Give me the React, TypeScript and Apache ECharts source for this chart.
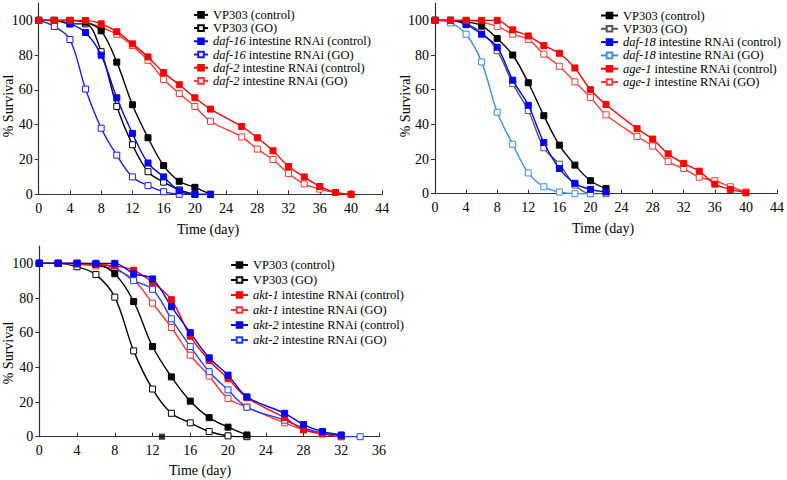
import React, { useEffect, useRef } from "react";
import * as echarts from "echarts";

// ---------- Panel A (top-left) ----------
const vp303CtrlA = [[0,100],[2,100],[4,100],[6,99],[8,94],[10,76],[12,51.5],[14,32.5],[16,16.5],[18,7.5],[20,4],[22,0]];
const vp303GoA = [[0,100],[2,100],[4,98],[6,98],[8,82],[10,50.5],[12,28.5],[14,13],[16,7],[18,2.5],[20,0]];
const daf16Ctrl = [[0,100],[2,100],[4,98],[6,93],[8,80],[10,55.5],[12,35],[14,18],[16,10],[18,2],[20,0],[22,0]];
const daf16Go = [[0,100],[2,96.5],[4,89],[6,60.5],[8,38],[10,22.5],[12,10],[14,5],[16,1.5],[18,0]];
const daf2Ctrl = [[0,100],[2,100],[4,100],[6,100],[8,98],[10,93.5],[12,86.5],[14,79],[16,70],[18,63],[20,55.5],[22,49],[26,39],[28,32.5],[30,25],[32,16],[34,10],[36,4.5],[38,1],[40,0]];
const daf2Go = [[0,100],[2,100],[4,100],[6,99],[8,96],[10,92],[12,85.5],[14,77],[16,66],[18,58],[20,50.5],[22,42],[26,33],[28,26],[30,20],[32,12],[34,6],[36,3],[38,1],[40,0]];

// ---------- Panel B (top-right) ----------
const vp303CtrlB = [[0,100],[2,100],[4,99],[6,97],[8,89.5],[10,80],[12,64],[14,45],[16,28],[18,16.5],[20,7.5],[22,3]];
const vp303GoB = [[0,100],[2,100],[4,98],[6,93],[8,82.5],[10,63.5],[12,48],[14,26.5],[16,17],[18,5],[20,0],[22,0]];
const daf18Ctrl = [[0,100],[2,100],[4,97.5],[6,92],[8,84.5],[10,65.5],[12,51],[14,29.5],[16,14.5],[18,6],[20,2.5],[22,1]];
const daf18Go = [[0,100],[2,98.5],[4,92],[6,76],[8,47],[10,28.5],[12,12],[14,4],[16,1],[18,0],[20,0]];
const age1Ctrl = [[0,100],[2,100],[4,100],[6,100],[8,100],[10,94.5],[12,91],[14,85.5],[16,81],[18,72.5],[20,60],[22,51.5],[26,37.5],[28,31.5],[30,23],[32,17.5],[34,13],[36,5.5],[38,2.5],[40,0.5]];
const age1Go = [[0,100],[2,100],[4,100],[6,99],[8,96.5],[10,92],[12,89],[14,80.5],[16,73.5],[18,64.5],[20,55.5],[22,45.5],[26,33],[28,27.5],[30,18.5],[32,14.5],[34,9.5],[36,7.5],[38,4],[40,1]];

// ---------- Panel C (bottom-left) ----------
const vp303CtrlC = [[0,100],[2,100],[4,100],[6,99.5],[8,94],[10,78],[12,52],[14,34.5],[16,20.5],[18,11],[20,5.5],[22,1]];
const vp303GoC = [[0,100],[2,100],[4,98],[6,93.5],[8,80.5],[10,49.5],[12,27.5],[14,13.5],[16,8],[18,3],[20,0.5],[22,0]];
const akt1Ctrl = [[0,100],[2,100],[4,100],[6,99.5],[8,98.5],[10,96],[12,89],[14,79],[16,58],[18,44],[20,33.5],[22,22.5],[26,11],[28,4],[30,2],[32,0.5]];
const akt1Go = [[0,100],[2,100],[4,99.5],[6,98.5],[8,96.5],[10,90.5],[12,77],[14,63],[16,47],[18,35],[20,22],[22,17],[26,8],[28,4],[30,1.5],[32,0]];
const akt2Ctrl = [[0,100],[2,100],[4,100],[6,100],[8,100],[10,94],[12,91],[14,75],[16,60],[18,45.5],[20,35.5],[22,23],[26,13.5],[28,7],[30,3],[32,1]];
const akt2Go = [[0,100],[2,100],[4,100],[6,99.5],[8,97.5],[10,90],[12,85],[14,68],[16,52],[18,37.5],[20,27],[22,17],[26,9.5],[28,5],[30,2],[32,0],[34,0]];
const strayC = [[13,0]];

const yTicks = [0, 20, 40, 60, 80, 100];
const xTicksTop = [0, 4, 8, 12, 16, 20, 24, 28, 32, 36, 40, 44];
const xTicksBottom = [0, 4, 8, 12, 16, 20, 24, 28, 32, 36];

const namesA = ["VP303 (control)", "VP303 (GO)", "daf-16 intestine RNAi (control)", "daf-16 intestine RNAi (GO)", "daf-2 intestine RNAi (control)", "daf-2 intestine RNAi (GO)"];
const namesB = ["VP303 (control) ", "VP303 (GO) ", "daf-18 intestine RNAi (control)", "daf-18 intestine RNAi (GO)", "age-1 intestine RNAi (control)", "age-1 intestine RNAi (GO)"];
const namesC = ["VP303 (control)  ", "VP303 (GO)  ", "akt-1 intestine RNAi (control)", "akt-1 intestine RNAi (GO)", "akt-2 intestine RNAi (control)", "akt-2 intestine RNAi (GO)"];

const FONT = "Liberation Serif";

export default function App() {
  const ref = useRef<HTMLDivElement>(null);
  useEffect(() => {
    document.body.style.margin = "0";
    const chart = echarts.init(ref.current!, null, { renderer: "svg" });

    const mk = (name: string, data: number[][], color: string, open: boolean, grid: number) => ({
      type: "line",
      name,
      xAxisIndex: grid,
      yAxisIndex: grid,
      data,
      smooth: 0.35,
      symbol: "rect",
      symbolSize: 6,
      lineStyle: { color, width: 1.4 },
      itemStyle: { color: open ? "#ffffff" : color, borderColor: color, borderWidth: 1 },
      emphasis: { disabled: true },
      z: open ? 3 : 4,
    });

    const legendFmt = (name: string) => {
      const n = name.trim();
      if (n.startsWith("VP303")) return `{n|${n}}`;
      const i = n.indexOf(" ");
      return `{i|${n.slice(0, i)}}{n|${n.slice(i)}}`;
    };
    const mkLegend = (data: string[], left: number, top: number, iw: number, gap: number) => ({
      orient: "vertical",
      left,
      top,
      itemWidth: iw,
      itemHeight: 7,
      itemGap: gap,
      padding: 0,
      selectedMode: false,
      data,
      formatter: legendFmt,
      textStyle: {
        fontFamily: FONT,
        fontSize: 12.5,
        color: "#000",
        lineHeight: 13,
        rich: {
          i: { fontFamily: FONT, fontSize: 12.5, fontStyle: "italic", color: "#000", lineHeight: 13 },
          n: { fontFamily: FONT, fontSize: 12.5, color: "#000", lineHeight: 13 },
        },
      },
    });

    const axisLine = { show: true, lineStyle: { color: "#333", width: 1.2 } };
    const mkX = (grid: number, max: number, ticks: number[]) => ({
      type: "value",
      gridIndex: grid,
      min: 0,
      max,
      interval: 4,
      axisLine,
      axisTick: { show: true, inside: true, length: 4, lineStyle: { color: "#333" }, customValues: ticks },
      axisLabel: { color: "#000", fontFamily: FONT, fontSize: 14, margin: 7, customValues: ticks },
      splitLine: { show: false },
    });
    const mkY = (grid: number) => ({
      type: "value",
      gridIndex: grid,
      min: 0,
      max: 110,
      interval: 20,
      axisLine,
      axisTick: { show: true, inside: false, length: 4, lineStyle: { color: "#333" }, customValues: yTicks },
      axisLabel: { color: "#000", fontFamily: FONT, fontSize: 14, margin: 6, customValues: yTicks },
      splitLine: { show: false },
    });

    const txt = (text: string, x: number, y: number, rot: number) => ({
      type: "text",
      x,
      y,
      rotation: rot,
      style: { text, fontFamily: FONT, fontSize: 14, fill: "#000", align: "center", verticalAlign: "middle" },
    });

    chart.setOption({
      animation: false,
      backgroundColor: "#fff",
      grid: [
        { left: 38.7, top: 3, width: 343.6, height: 191.3 },
        { left: 435, top: 3, width: 343.3, height: 190.7 },
        { left: 39.3, top: 246, width: 339.7, height: 190.7 },
      ],
      xAxis: [mkX(0, 44, xTicksTop), mkX(1, 44, xTicksTop), mkX(2, 36, xTicksBottom)],
      yAxis: [mkY(0), mkY(1), mkY(2)],
      legend: [
        mkLegend(namesA, 193, 8.4, 14, 0.2),
        mkLegend(namesB, 600, 9, 17, 0.3),
        mkLegend(namesC, 230, 258.5, 17, 2),
      ],
      graphic: [
        txt("% Survival", 8, 106, Math.PI / 2),
        txt("% Survival", 405, 106, Math.PI / 2),
        txt("% Survival", 8, 353, Math.PI / 2),
        txt("Time (day)", 208, 229, 0),
        txt("Time (day)", 603, 228, 0),
        txt("Time (day)", 200, 470, 0),
      ],
      series: [
        mk(namesA[0], vp303CtrlA, "#000000", false, 0),
        mk(namesA[1], vp303GoA, "#000000", true, 0),
        mk(namesA[2], daf16Ctrl, "#0000ff", false, 0),
        mk(namesA[3], daf16Go, "#1a1aff", true, 0),
        mk(namesA[4], daf2Ctrl, "#ff0000", false, 0),
        mk(namesA[5], daf2Go, "#ff3333", true, 0),

        mk(namesB[0], vp303CtrlB, "#000000", false, 1),
        mk(namesB[1], vp303GoB, "#555555", true, 1),
        mk(namesB[2], daf18Ctrl, "#0000ff", false, 1),
        mk(namesB[3], daf18Go, "#3a8ee6", true, 1),
        mk(namesB[4], age1Ctrl, "#ff0000", false, 1),
        mk(namesB[5], age1Go, "#ff3c3c", true, 1),

        mk(namesC[0], vp303CtrlC, "#000000", false, 2),
        mk(namesC[1], vp303GoC, "#000000", true, 2),
        mk(namesC[2], akt1Ctrl, "#ff0000", false, 2),
        mk(namesC[3], akt1Go, "#ff3333", true, 2),
        mk(namesC[4], akt2Ctrl, "#0000ff", false, 2),
        mk(namesC[5], akt2Go, "#1f3fff", true, 2),
        {
          type: "scatter",
          xAxisIndex: 2,
          yAxisIndex: 2,
          data: strayC,
          symbol: "rect",
          symbolSize: 6,
          itemStyle: { color: "#000" },
          emphasis: { disabled: true },
        },
      ],
    });
    return () => chart.dispose();
  }, []);
  return <div ref={ref} style={{ width: 787, height: 480 }} />;
}
